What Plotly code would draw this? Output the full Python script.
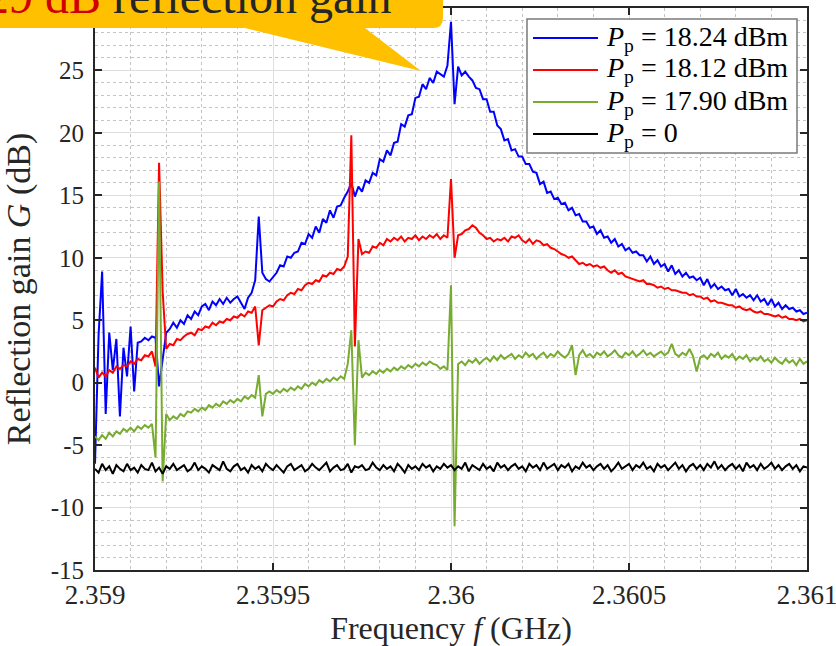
import numpy as np
import plotly.graph_objects as go

# ---------------- data ----------------
# frequency sampling grid in GHz (2.359 ... 2.361, 201 points)
freq_ghz = np.round(2.359 + np.arange(201) * 1e-5, 6)

gain_1824 = [
    -6.5, 3.8, 8.9, -2.5, 4.0, 1.0, 3.5, -2.7, 2.8, 0.5,
    4.5, -0.7, 3.2, 3.3, 3.6, 3.4, 3.7, 3.6, -0.3, 2.0,
    4.0, 4.3, 4.8, 4.4, 5.0, 4.7, 5.4, 5.1, 5.7, 5.4,
    6.1, 6.3, 5.8, 6.5, 6.2, 6.7, 6.3, 6.8, 6.4, 6.7,
    6.9, 6.4, 5.9, 6.8, 7.2, 8.2, 13.3, 8.8, 8.3, 8.1,
    8.5, 8.8, 9.4, 9.3, 10.1, 10.0, 10.4, 10.5, 11.2, 11.1,
    11.9, 11.6, 12.5, 12.0, 13.1, 12.8, 13.8, 13.2, 14.1, 14.2,
    14.8, 15.3, 16.0, 14.9, 15.7, 15.3, 16.2, 16.0, 16.8, 16.6,
    17.9, 17.7, 18.6, 18.2, 19.2, 19.3, 20.7, 20.5, 21.4, 21.5,
    22.8, 22.9, 23.9, 23.5, 24.4, 24.0, 24.9, 24.7, 24.5, 25.4,
    28.9, 22.3, 25.3, 24.6, 24.9, 24.5, 24.2, 23.6, 23.5, 22.7,
    22.7, 21.7, 21.7, 20.6, 20.3, 19.4, 19.5, 18.6, 18.7, 18.1,
    18.1, 17.5, 17.5, 16.9, 16.8, 15.9, 16.1, 15.2, 15.3, 14.7,
    14.8, 14.3, 14.4, 13.8, 14.0, 13.4, 13.5, 12.9, 12.9, 12.4,
    12.5, 11.9, 12.2, 11.6, 11.7, 11.2, 11.5, 10.9, 11.1, 10.6,
    10.8, 10.4, 10.5, 10.2, 10.2, 9.7, 10.1, 9.5, 9.8, 9.3,
    9.5, 8.9, 9.4, 8.7, 9.0, 8.5, 8.8, 8.4, 8.5, 8.2,
    8.4, 7.8, 8.3, 7.6, 7.9, 7.5, 7.7, 7.4, 7.5, 7.0,
    7.5, 6.9, 7.1, 6.8, 7.0, 6.6, 7.0, 6.5, 6.7, 6.2,
    6.7, 6.1, 6.4, 5.9, 6.2, 5.9, 6.0, 5.7, 5.8, 5.5,
    5.6,
]

gain_1812 = [
    1.2, 0.4, 0.8, 0.5, 1.0, 0.8, 1.3, 1.1, 1.4, 1.3,
    1.7, 1.5, 1.9, 1.8, 2.2, 2.1, 2.5, 1.3, 17.6, 7.3,
    2.7, 3.1, 3.0, 3.5, 3.4, 3.7, 3.9, 4.0, 3.8, 4.3,
    4.2, 4.5, 4.4, 4.8, 4.6, 4.9, 4.8, 5.1, 5.0, 5.3,
    5.2, 5.5, 5.3, 5.7, 5.6, 6.1, 3.0, 5.8, 6.0, 6.2,
    6.1, 6.5, 6.7, 6.6, 7.0, 7.2, 7.1, 7.5, 7.4, 7.8,
    8.0, 7.9, 8.2, 8.1, 8.6, 8.5, 8.8, 8.7, 9.1, 9.0,
    9.3, 10.1, 19.8, 2.9, 11.5, 10.3, 10.5, 10.4, 10.9, 10.8,
    11.2, 11.0, 11.5, 11.3, 11.6, 11.4, 11.7, 11.3, 11.6, 11.5,
    11.8, 11.4, 11.7, 11.5, 11.8, 11.6, 11.9, 11.5, 11.8, 11.6,
    16.3, 10.0, 11.8, 11.9, 12.2, 12.3, 12.6, 12.4, 12.0, 11.8,
    11.5, 11.6, 11.3, 11.5, 11.4, 11.6, 11.3, 11.7, 11.6, 11.8,
    11.4, 11.2, 11.5, 11.1, 11.4, 11.3, 11.0, 11.1, 10.8, 10.7,
    10.5, 10.3, 10.2, 10.0, 10.1, 9.8, 9.5, 9.6, 9.4, 9.5,
    9.3, 9.4, 9.2, 9.3, 9.0, 8.8, 9.0, 8.7, 8.8, 8.5,
    8.4, 8.3, 8.2, 8.1, 8.2, 7.9, 7.9, 7.8, 7.6, 7.7,
    7.5, 7.6, 7.4, 7.4, 7.3, 7.2, 7.2, 7.0, 7.1, 6.9,
    6.9, 6.7, 6.8, 6.5, 6.6, 6.4, 6.4, 6.3, 6.2, 6.2,
    6.0, 6.1, 5.9, 5.8, 5.9, 5.7, 5.6, 5.7, 5.5, 5.5,
    5.4, 5.3, 5.4, 5.2, 5.3, 5.1, 5.1, 5.0, 5.1, 4.9,
    5.0,
]

gain_1790 = [
    -4.3, -4.6, -4.2, -4.5, -4.0, -4.3, -3.9, -4.1, -3.7, -3.9,
    -3.6, -3.9, -3.5, -3.7, -3.4, -3.6, -3.3, -6.0, 16.1, -7.9,
    -2.5, -3.0, -2.7, -2.9, -2.5, -2.7, -2.3, -2.4, -2.1, -2.3,
    -2.0, -2.2, -1.8, -2.0, -1.7, -1.9, -1.5, -1.7, -1.4, -1.6,
    -1.3, -1.5, -1.1, -1.3, -1.0, -1.2, 0.6, -2.7, -0.9, -0.7,
    -0.9, -0.6, -0.8, -0.5, -0.7, -0.4, -0.6, -0.3, -0.5, -0.1,
    -0.3, 0.0, -0.2, 0.2, 0.0, 0.3, 0.1, 0.4, 0.2, 0.5,
    0.3, 1.5, 4.2, -5.0, 3.4, 0.4, 0.8, 0.6, 0.9, 0.7,
    1.0, 0.8, 1.1, 0.9, 1.2, 1.0, 1.3, 1.1, 1.4, 1.2,
    1.5, 1.3, 1.6, 1.4, 1.7, 1.5, 1.4, 1.1, 1.3, 1.0,
    7.8, -11.5, 1.5, 1.7, 1.4, 1.8, 1.6, 1.9, 1.5, 1.8,
    2.0, 1.7, 2.1, 1.8, 2.2, 1.9, 2.1, 2.3, 1.9, 2.2,
    2.0, 2.4, 2.1, 2.3, 1.9, 2.2, 2.4, 2.0, 2.3, 2.1,
    2.5, 2.2, 2.0, 2.3, 3.0, 0.6, 2.2, 2.6, 2.1, 2.3,
    2.0, 2.4, 2.2, 2.5, 2.1, 2.3, 2.6, 2.2, 2.0, 2.4,
    2.2, 2.5, 2.1, 2.3, 2.6, 2.2, 2.4, 2.1, 2.3, 2.5,
    2.2, 2.4, 3.1, 2.3, 2.1, 2.4, 2.2, 2.7, 2.1, 0.9,
    2.0, 2.2, 1.9, 2.3, 2.1, 2.4, 1.9, 2.2, 2.0, 2.3,
    1.8, 2.1, 1.9, 2.2, 1.7, 2.0, 1.8, 2.1, 1.7, 1.9,
    1.6, 2.0, 1.7, 1.5, 1.9, 1.6, 1.8, 1.4, 1.9, 1.5,
    1.7,
]

gain_off = [
    -6.9, -7.2, -6.5, -7.0, -6.7, -7.3, -6.6, -6.9, -7.1, -6.5,
    -7.0, -6.8, -7.2, -6.6, -6.9, -7.0, -6.4, -7.1, -6.8, -7.3,
    -6.7, -6.9, -6.5, -7.0, -6.8, -6.6, -7.1, -6.9, -6.4, -7.0,
    -6.7, -6.9, -7.2, -6.6, -6.8, -7.0, -6.3, -6.9, -7.1, -6.7,
    -6.5, -7.0, -6.8, -7.2, -6.6, -6.9, -6.7, -7.1, -6.5, -6.8,
    -7.0, -6.6, -6.9, -7.2, -6.7, -6.5, -7.0, -6.8, -6.6, -7.1,
    -6.9, -6.5, -6.8, -7.0, -6.7, -6.4, -7.1, -6.8, -6.6, -7.0,
    -6.9, -6.5, -7.2, -6.7, -6.8, -6.6, -7.0, -6.9, -6.4, -6.8,
    -7.0, -6.6, -6.9, -6.7, -7.1, -6.5, -6.8, -7.2, -6.6, -6.9,
    -6.7, -7.0, -6.5, -6.8, -6.6, -7.1, -6.7, -6.9, -6.5, -6.8,
    -6.6, -7.0, -6.7, -6.9, -6.4, -7.1, -6.6, -6.8, -7.0, -6.5,
    -6.9, -6.7, -7.1, -6.4, -6.8, -6.6, -7.0, -6.7, -6.5, -6.9,
    -6.7, -7.1, -6.5, -6.8, -6.6, -7.0, -6.4, -6.9, -6.7, -6.5,
    -7.0, -6.6, -6.8, -6.5, -7.1, -6.7, -6.9, -6.4, -6.8, -6.6,
    -7.0, -6.7, -6.5, -6.9, -6.6, -7.1, -6.8, -6.4, -6.9, -6.7,
    -6.5, -7.0, -6.6, -6.8, -6.4, -6.9, -6.7, -7.1, -6.5, -6.8,
    -6.6, -7.0, -6.7, -6.4, -6.9, -6.6, -7.1, -6.7, -6.5, -6.9,
    -6.6, -7.0, -6.5, -6.8, -6.3, -6.9, -6.6, -7.0, -6.7, -6.5,
    -6.9, -6.6, -7.1, -6.4, -6.8, -6.6, -7.0, -6.5, -6.9, -6.7,
    -6.4, -6.9, -6.6, -7.0, -6.7, -6.5, -6.9, -6.6, -7.1, -6.7,
    -6.8,
]

series_names = ["18.24 dBm", "18.12 dBm", "17.90 dBm", "0"]
series_colors = ["#0000FF", "#FF0000", "#77AC30", "#000000"]
series_values = [gain_1824, gain_1812, gain_1790, gain_off]

x_tickvals = [2.359, 2.3595, 2.36, 2.3605, 2.361]
x_ticktext = ["2.359", "2.3595", "2.36", "2.3605", "2.361"]
y_tickvals = [-15, -10, -5, 0, 5, 10, 15, 20, 25]
y_ticktext = ["-15", "-10", "-5", "0", "5", "10", "15", "20", "25"]

for v in series_values:
    assert len(v) == len(freq_ghz), len(v)

# ---------------- layout geometry ----------------
W, H = 836, 646
L, R, T, B = 95, 29, 8, 76
PW, PH = W - L - R, H - T - B


def px(x):
    return (x - L) / PW


def py(y):
    return (H - B - y) / PH


FONT = "Liberation Serif"
TXT = "#262626"

fig = go.Figure()
for name, col, vals in zip(series_names, series_colors, series_values):
    fig.add_trace(go.Scatter(
        x=freq_ghz, y=vals, mode="lines", name=name,
        line=dict(color=col, width=2), showlegend=False,
    ))

axis_common = dict(
    showline=True, linecolor=TXT, linewidth=2, mirror="ticks",
    ticks="inside", ticklen=7, tickwidth=2, tickcolor=TXT,
    showgrid=True, gridcolor="#dedede", gridwidth=1,
    zeroline=False,
)

fig.update_xaxes(
    range=[2.359, 2.361], tickmode="array", tickvals=x_tickvals, ticktext=x_ticktext,
    tickfont=dict(family=FONT, size=27, color=TXT), ticklabeloverflow="allow",
    minor=dict(tickmode="linear", tick0=2.359, dtick=0.0001, showgrid=True,
               gridcolor="#c4c4c4", griddash="dot", gridwidth=1, ticks=""),
    title=dict(text="Frequency <i>f</i> (GHz)", font=dict(family=FONT, size=32, color=TXT), standoff=2),
    **axis_common,
)
fig.update_yaxes(
    range=[-15, 30], tickmode="array", tickvals=y_tickvals, ticktext=y_ticktext,
    tickfont=dict(family=FONT, size=25, color=TXT), ticklabelstandoff=4,
    minor=dict(tickmode="linear", tick0=-15, dtick=1, showgrid=True,
               gridcolor="#c4c4c4", griddash="dot", gridwidth=1, ticks=""),
    title=dict(text="Reflection gain <i>G</i> (dB)", font=dict(family=FONT, size=34, color=TXT), standoff=10),
    **axis_common,
)

shapes = []
annotations = []

# legend box (drawn manually)
shapes.append(dict(type="rect", xref="paper", yref="paper",
                   x0=px(527), x1=px(797), y0=py(153), y1=py(19),
                   line=dict(color="#7a7a7a", width=1.5), fillcolor="white", layer="above"))
legend_rows = [38, 70, 102, 134]
for yy, name, col in zip(legend_rows, series_names, series_colors):
    shapes.append(dict(type="line", xref="paper", yref="paper",
                       x0=px(533), x1=px(598), y0=py(yy), y1=py(yy),
                       line=dict(color=col, width=2), layer="above"))
    annotations.append(dict(xref="paper", yref="paper", x=px(604), y=py(yy),
                            xanchor="left", yanchor="middle", showarrow=False,
                            text="<i>P</i><sub>p</sub> = " + name,
                            font=dict(family=FONT, size=28, color="#000000")))

# callout bubble (partly outside the figure, as in the reference)
pts = [(-30, -80), (443, -80), (443, 18), (433, 28), (365, 28), (421, 71), (245, 28), (-30, 28)]
path = "M " + " L ".join(f"{px(a):.5f},{py(b):.5f}" for a, b in pts[:3])
path += f" Q {px(443):.5f},{py(28):.5f} {px(433):.5f},{py(28):.5f}"
path += " L " + " L ".join(f"{px(a):.5f},{py(b):.5f}" for a, b in pts[4:]) + " Z"
shapes.append(dict(type="path", xref="paper", yref="paper", path=path,
                   fillcolor="#FFC000", line=dict(width=0), layer="above"))
annotations.append(dict(xref="paper", yref="paper", x=px(-16), y=py(24),
                        xanchor="left", yanchor="bottom", showarrow=False, borderpad=0,
                        text="<span style='color:#D00000'>29 dB</span> reflection gain",
                        font=dict(family=FONT, size=48, color=TXT)))

fig.update_layout(
    width=W, height=H,
    margin=dict(l=L, r=R, t=T, b=B, autoexpand=False),
    paper_bgcolor="white", plot_bgcolor="white",
    shapes=shapes, annotations=annotations,
    showlegend=False,
)

fig.write_html("out.html")
